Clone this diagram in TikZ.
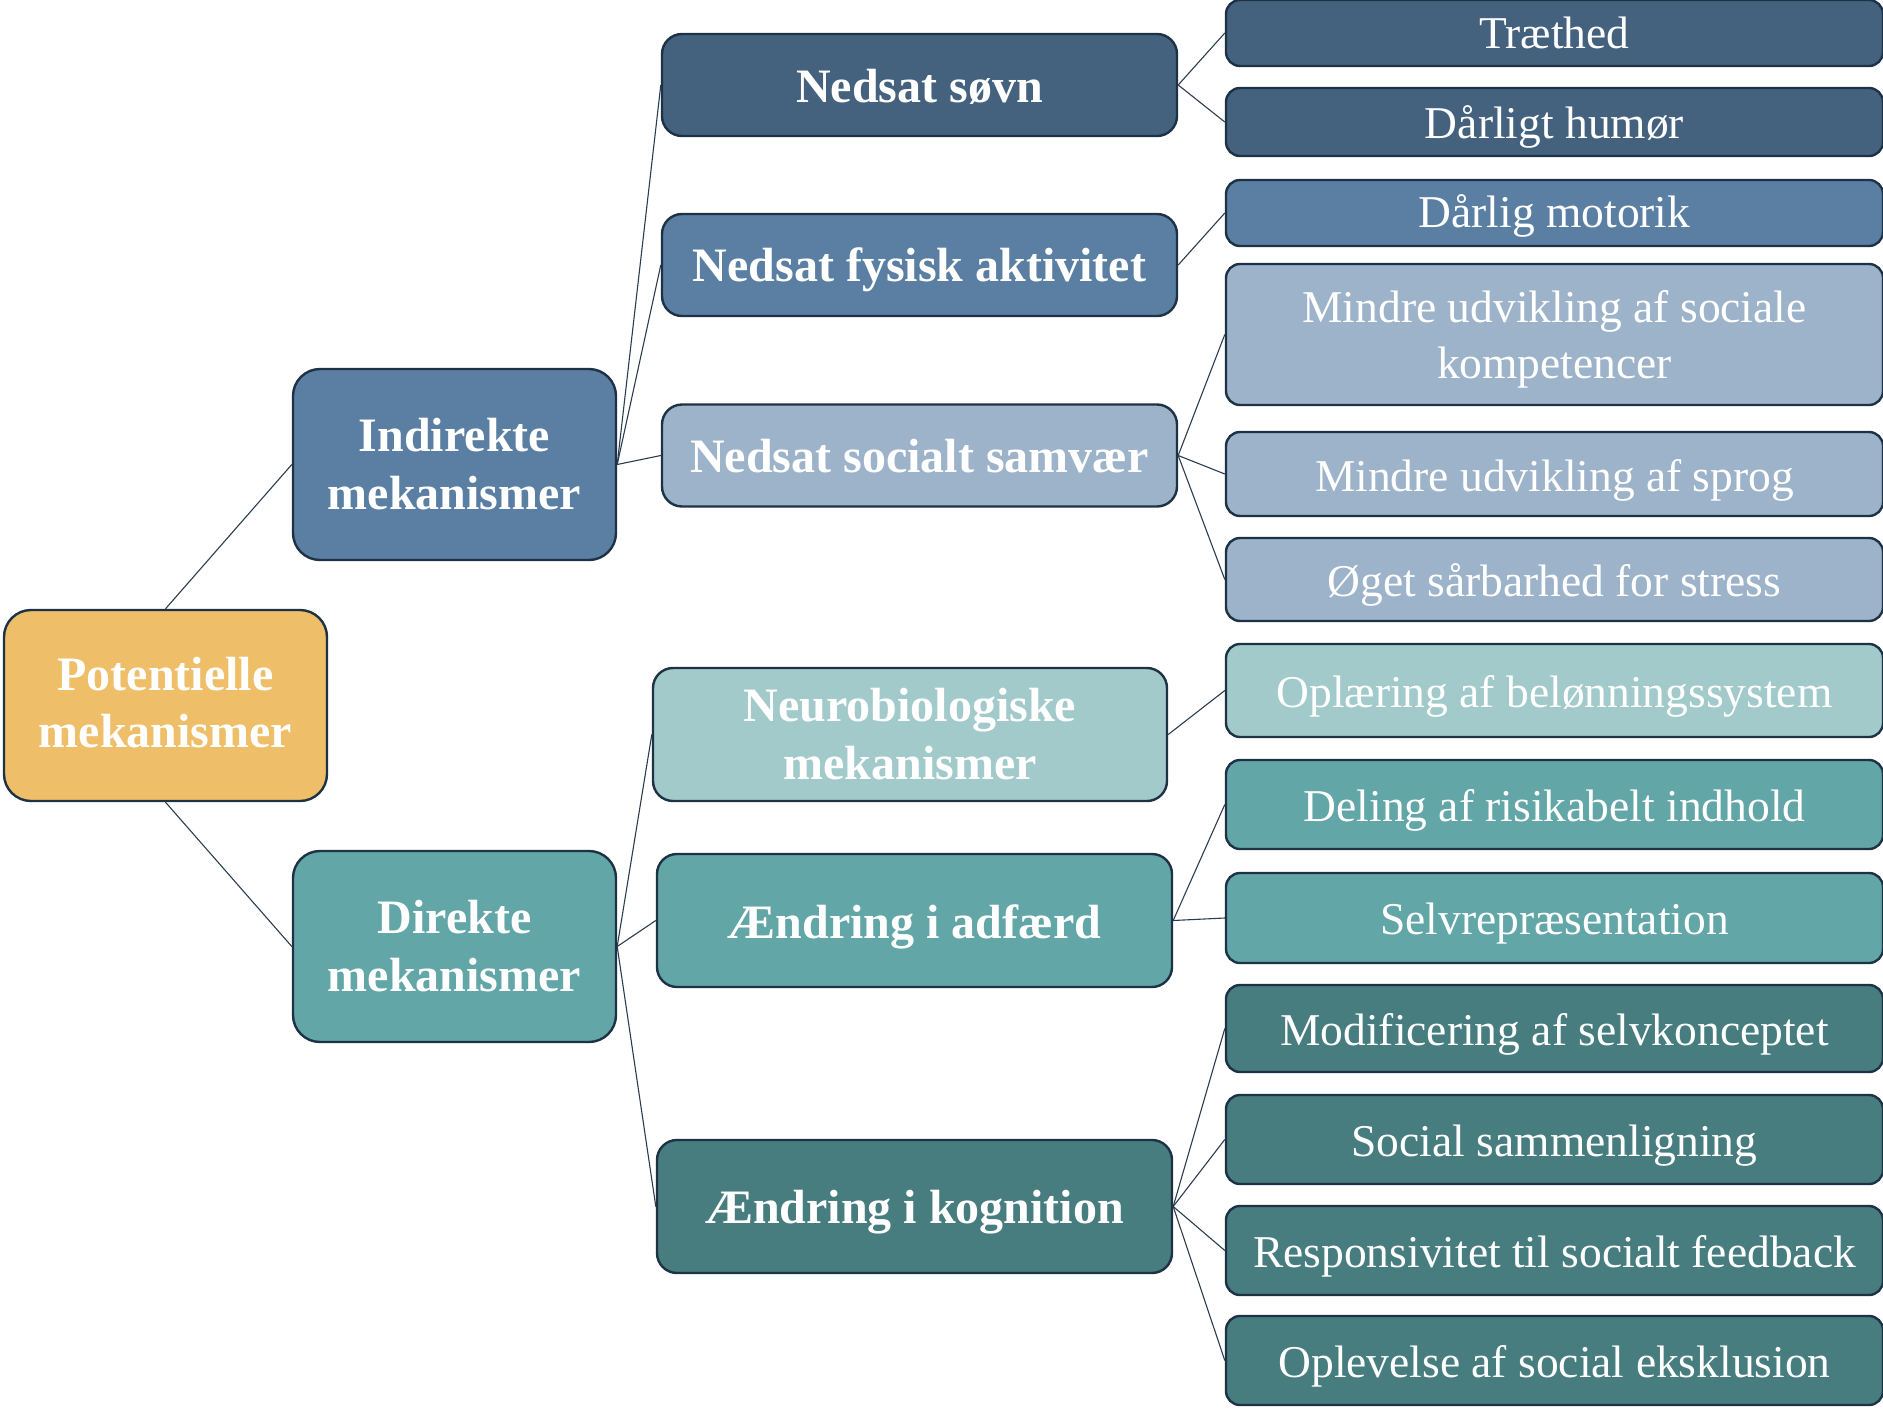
\documentclass[tikz,border=0pt]{standalone}
\usepackage{fontspec}
\setmainfont{Liberation Serif}
\newcommand{\lowtxt}[2]{\raisebox{0pt}[\dimexpr\height+#1pt\relax][\depth]{#2}}
\newcommand{\twoline}[3]{\raisebox{0pt}[\dimexpr\height+#1pt\relax][\depth]{\begin{tabular}{@{}c@{}}#2\\[-2pt]#3\end{tabular}}}
\begin{document}
\begin{tikzpicture}[x=1pt,y=-1pt,
  box/.style={draw=bordc, line width=2.4pt, rounded corners=20pt, inner sep=0pt,
    text=white, align=center, font=\fontsize{48}{58}\selectfont\bfseries},
  leaf/.style={box, rounded corners=14pt, minimum width=657pt,
    font=\fontsize{45.5}{58}\selectfont},
  link/.style={draw=linec, line width=1.1pt}
]
\definecolor{bordc}{HTML}{1E3246}
\definecolor{linec}{HTML}{2A3C50}
\definecolor{cDB}{HTML}{44617E}
\definecolor{cMB}{HTML}{5A7FA3}
\definecolor{cLB}{HTML}{9DB3CA}
\definecolor{cOR}{HTML}{EEBE68}
\definecolor{cLT}{HTML}{A3CACA}
\definecolor{cTE}{HTML}{62A6A7}
\definecolor{cDT}{HTML}{477D7E}
\useasboundingbox (0,0) rectangle (1883,1411);

% level 0
\node[box, fill=cOR, rounded corners=27pt, minimum width=323pt, minimum height=191pt] (pot) at (165.5,705.5) {\lowtxt{4}{\begin{tabular}{@{}c@{}}Potentielle\\[-0.5pt]mekanismer\end{tabular}}};
% level 1
\node[box, fill=cMB, rounded corners=27pt, minimum width=323pt, minimum height=191pt] (ind) at (454.5,464.5) {Indirekte\\mekanismer};
\node[box, fill=cTE, rounded corners=27pt, minimum width=323pt, minimum height=191pt] (dir) at (454.5,946.5) {Direkte\\mekanismer};
% level 2
\node[box, fill=cDB, minimum width=515pt, minimum height=102pt] (sovn) at (919.5,85) {\lowtxt{4}{Nedsat søvn}};
\node[box, fill=cMB, minimum width=515pt, minimum height=102pt] (fys) at (919.5,265) {\lowtxt{10}{Nedsat fysisk aktivitet}};
\node[box, fill=cLB, minimum width=515pt, minimum height=102pt] (soc) at (919.5,455.5) {\lowtxt{2}{Nedsat socialt samvær}};
\node[box, fill=cLT, minimum width=514pt, minimum height=133pt] (neuro) at (910,734.5) {Neurobiologiske\\mekanismer};
\node[box, fill=cTE, minimum width=515pt, minimum height=133pt] (adf) at (914.5,920.5) {\lowtxt{12}{Ændring i adfærd}};
\node[box, fill=cDT, minimum width=515pt, minimum height=133pt] (kog) at (914.5,1206.5) {\lowtxt{12}{Ændring i kognition}};
% leaves
\node[leaf, fill=cDB, minimum height=66pt] (trae) at (1554.5,33) {\lowtxt{0}{Træthed}};
\node[leaf, fill=cDB, minimum height=68pt] (humor) at (1554.5,122) {\lowtxt{10}{Dårligt humør}};
\node[leaf, fill=cMB, minimum height=66pt] (motor) at (1554.5,213) {\lowtxt{6}{Dårlig motorik}};
\node[leaf, fill=cLB, minimum height=141pt] (komp) at (1554.5,334.5) {\twoline{8}{Mindre udvikling af sociale}{kompetencer}};
\node[leaf, fill=cLB, minimum height=84pt] (sprog) at (1554.5,474) {\lowtxt{12}{Mindre udvikling af sprog}};
\node[leaf, fill=cLB, minimum height=83pt] (stress) at (1554.5,579.5) {\lowtxt{10}{Øget sårbarhed for stress}};
\node[leaf, fill=cLT, minimum height=93pt] (oplaer) at (1554.5,690.5) {\lowtxt{12}{Oplæring af belønningssystem}};
\node[leaf, fill=cTE, minimum height=89pt] (deling) at (1554.5,804.5) {\lowtxt{12}{Deling af risikabelt indhold}};
\node[leaf, fill=cTE, minimum height=90pt] (selv) at (1554.5,918) {\lowtxt{12}{Selvrepræsentation}};
\node[leaf, fill=cDT, minimum height=87pt] (modif) at (1554.5,1028.5) {\lowtxt{12}{Modificering af selvkonceptet}};
\node[leaf, fill=cDT, minimum height=89pt] (sammen) at (1554.5,1139.5) {\lowtxt{12}{Social sammenligning}};
\node[leaf, fill=cDT, minimum height=89pt] (resp) at (1554.5,1250.5) {\lowtxt{12}{Responsivitet til socialt feedback}};
\node[leaf, fill=cDT, minimum height=89pt] (oplev) at (1554.5,1360.5) {\lowtxt{12}{Oplevelse af social eksklusion}};

% connectors
\draw[link] (pot.north) -- (ind.west);
\draw[link] (pot.south) -- (dir.west);
\draw[link] (ind.east) -- (sovn.west);
\draw[link] (ind.east) -- (fys.west);
\draw[link] (ind.east) -- (soc.west);
\draw[link] (dir.east) -- (neuro.west);
\draw[link] (dir.east) -- (adf.west);
\draw[link] (dir.east) -- (kog.west);
\draw[link] (sovn.east) -- (trae.west);
\draw[link] (sovn.east) -- (humor.west);
\draw[link] (fys.east) -- (motor.west);
\draw[link] (soc.east) -- (komp.west);
\draw[link] (soc.east) -- (sprog.west);
\draw[link] (soc.east) -- (stress.west);
\draw[link] (neuro.east) -- (oplaer.west);
\draw[link] (adf.east) -- (deling.west);
\draw[link] (adf.east) -- (selv.west);
\draw[link] (kog.east) -- (modif.west);
\draw[link] (kog.east) -- (sammen.west);
\draw[link] (kog.east) -- (resp.west);
\draw[link] (kog.east) -- (oplev.west);
\end{tikzpicture}
\end{document}
